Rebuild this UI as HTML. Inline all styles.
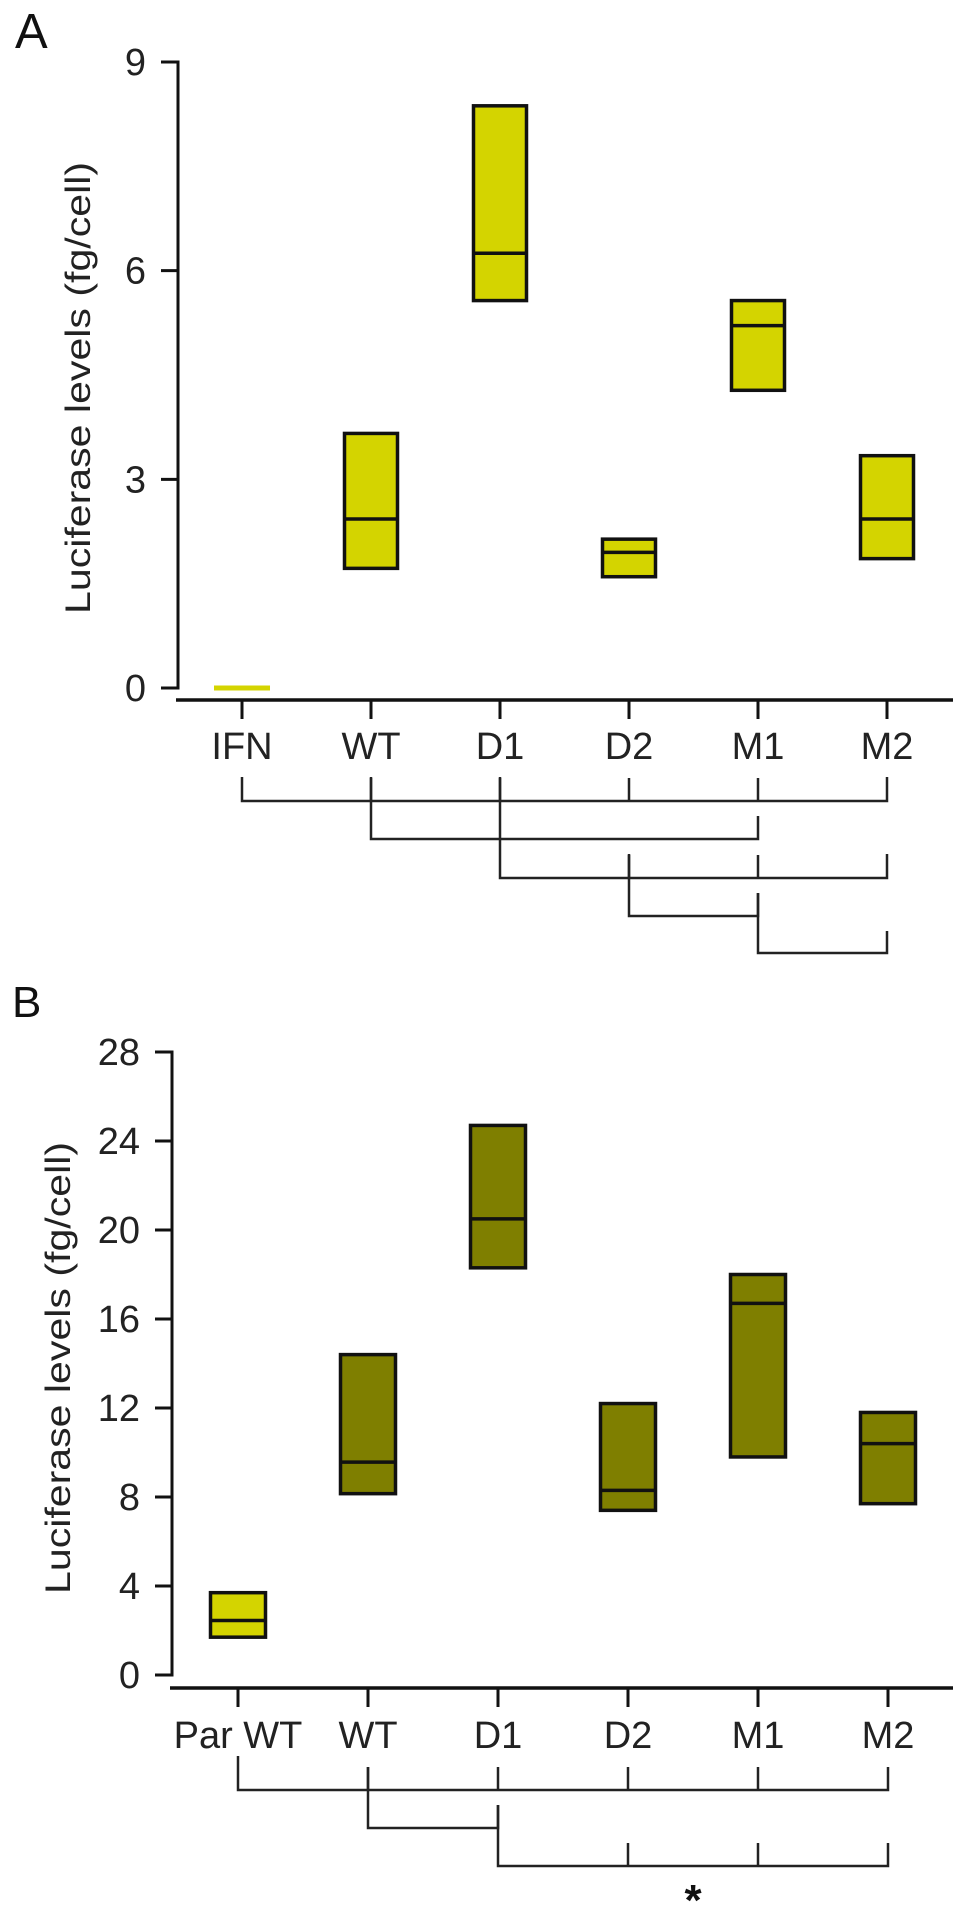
<!DOCTYPE html>
<html><head><meta charset="utf-8"><style>
body{margin:0;background:#fff;}
svg{display:block;font-family:"Liberation Sans",sans-serif;}
</style></head><body>
<svg id="c" width="969" height="1912"></svg>
<script>
const catsA=["IFN","WT","D1","D2","M1","M2"];
const lowA=[0,1.72,5.57,1.6,4.28,1.86];
const medA=[0,2.43,6.25,1.95,5.21,2.43];
const highA=[0,3.66,8.37,2.14,5.57,3.34];
const ticksA=[0,3,6,9];
const bracketsA=[[0,5,[1,2,3,4]],[1,4,[]],[2,5,[3,4]],[3,4,[]],[4,5,[]]];
const catsB=["Par WT","WT","D1","D2","M1","M2"];
const lowB=[1.7,8.15,18.3,7.4,9.8,7.7];
const medB=[2.45,9.57,20.5,8.3,16.7,10.4];
const highB=[3.7,14.4,24.7,12.2,18.0,11.8];
const ticksB=[0,4,8,12,16,20,24,28];
const bracketsB=[[0,5,[1,2,3,4]],[1,2,[]],[2,5,[3,4]]];
const NS="http://www.w3.org/2000/svg";
const svg=document.getElementById('c');
function mk(t,a,txt){const e=document.createElementNS(NS,t);for(const k in a)e.setAttribute(k,a[k]);if(txt!==undefined)e.textContent=txt;svg.appendChild(e);return e;}
function panel(o){
  const y=v=>o.y0-(o.y0-o.yTop)*v/o.max;
  const x=i=>o.x0+i*o.dx;
  let e=mk('text',{x:o.lx,y:o.ly,'font-size':o.lf,fill:'#111'},o.letter);
  
  
  e=mk('line',{x1:o.ax,y1:y(o.max)-1.5,x2:o.ax,y2:o.y0+1.5,stroke:'#111','stroke-width':3});
  
  
  o.ticks.forEach(t=>{
    let l=mk('line',{x1:o.ax-17,y1:y(t),x2:o.ax,y2:y(t),stroke:'#111','stroke-width':3});
    
    
    let tx=mk('text',{x:o.ax-32,y:y(t)+13,'font-size':38,'text-anchor':'end',fill:'#222'},t);
    
    
  });
  e=mk('text',{transform:`translate(${o.tx},${o.ty}) rotate(-90)`,'font-size':35,'text-anchor':'middle',fill:'#222',textLength:452,lengthAdjust:'spacingAndGlyphs'},'Luciferase levels (fg/cell)');
  
  
  e=mk('line',{x1:o.ax-2,y1:o.xa,x2:o.xe,y2:o.xa,stroke:'#111','stroke-width':3.5});
  
  
  o.cats.forEach((c,i)=>{
    let l=mk('line',{x1:x(i),y1:o.xa,x2:x(i),y2:o.xa+19,stroke:'#111','stroke-width':3});
    
    
    let tx=mk('text',{x:x(i),y:o.lb,'font-size':38,'text-anchor':'middle',fill:'#222'},c);
    
    
    const hw=o.bw/2;
    if(o.high[i]-o.low[i]<0.01){
      let r=mk('line',{x1:x(i)-28,y1:y(o.low[i]),x2:x(i)+28,y2:y(o.low[i]),stroke:'#d4d400','stroke-width':5});
      
      
      return;
    }
    let r=mk('rect',{x:x(i)-hw,y:y(o.high[i]),width:o.bw,height:y(o.low[i])-y(o.high[i]),fill:o.fills[i],stroke:'#111','stroke-width':3.5});
    
    
    let m=mk('line',{x1:x(i)-hw,y1:y(o.med[i]),x2:x(i)+hw,y2:y(o.med[i]),stroke:'#111','stroke-width':3.5});
    
    
  });
  o.br.forEach((b,k)=>{
    const by=o.rows[k];
    let p=mk('path',{d:`M${x(b[0])},${o.vt[k][0]}V${by}H${x(b[1])}V${o.vt[k][1]}`,fill:'none',stroke:'#222','stroke-width':2.5});
    
    
    b[2].forEach(j=>{
      let t=mk('line',{x1:x(j),y1:by-23,x2:x(j),y2:by,stroke:'#222','stroke-width':2.5});
      
      
    });
  });
}
panel({letter:'A',lx:15,ly:48,lf:49,ax:178,y0:688,yTop:62,max:9,ticks:ticksA,tx:90,ty:388,xa:700,xe:953,lb:759,x0:242,dx:129,
  cats:catsA,low:lowA,med:medA,high:highA,bw:53,fills:Array(6).fill('#d4d400'),
  br:bracketsA,rows:[801,839,878,916,953],vt:[[777,777],[777,816],[777,854],[854,893],[893,931]]});
panel({letter:'B',lx:12,ly:1017,lf:44,ax:172,y0:1675,yTop:1052,max:28,ticks:ticksB,tx:70,ty:1368,xa:1688,xe:953,lb:1748,x0:238,dx:130,
  cats:catsB,low:lowB,med:medB,high:highB,bw:55,fills:['#d4d400','#7f7f00','#7f7f00','#7f7f00','#7f7f00','#7f7f00'],
  br:bracketsB,rows:[1790,1828,1866],vt:[[1756,1767],[1767,1805],[1805,1843]]});
let s=mk('text',{x:693,y:1915,'font-size':44,'text-anchor':'middle','font-weight':'bold',fill:'#111'},'*');


</script>
</body></html>
